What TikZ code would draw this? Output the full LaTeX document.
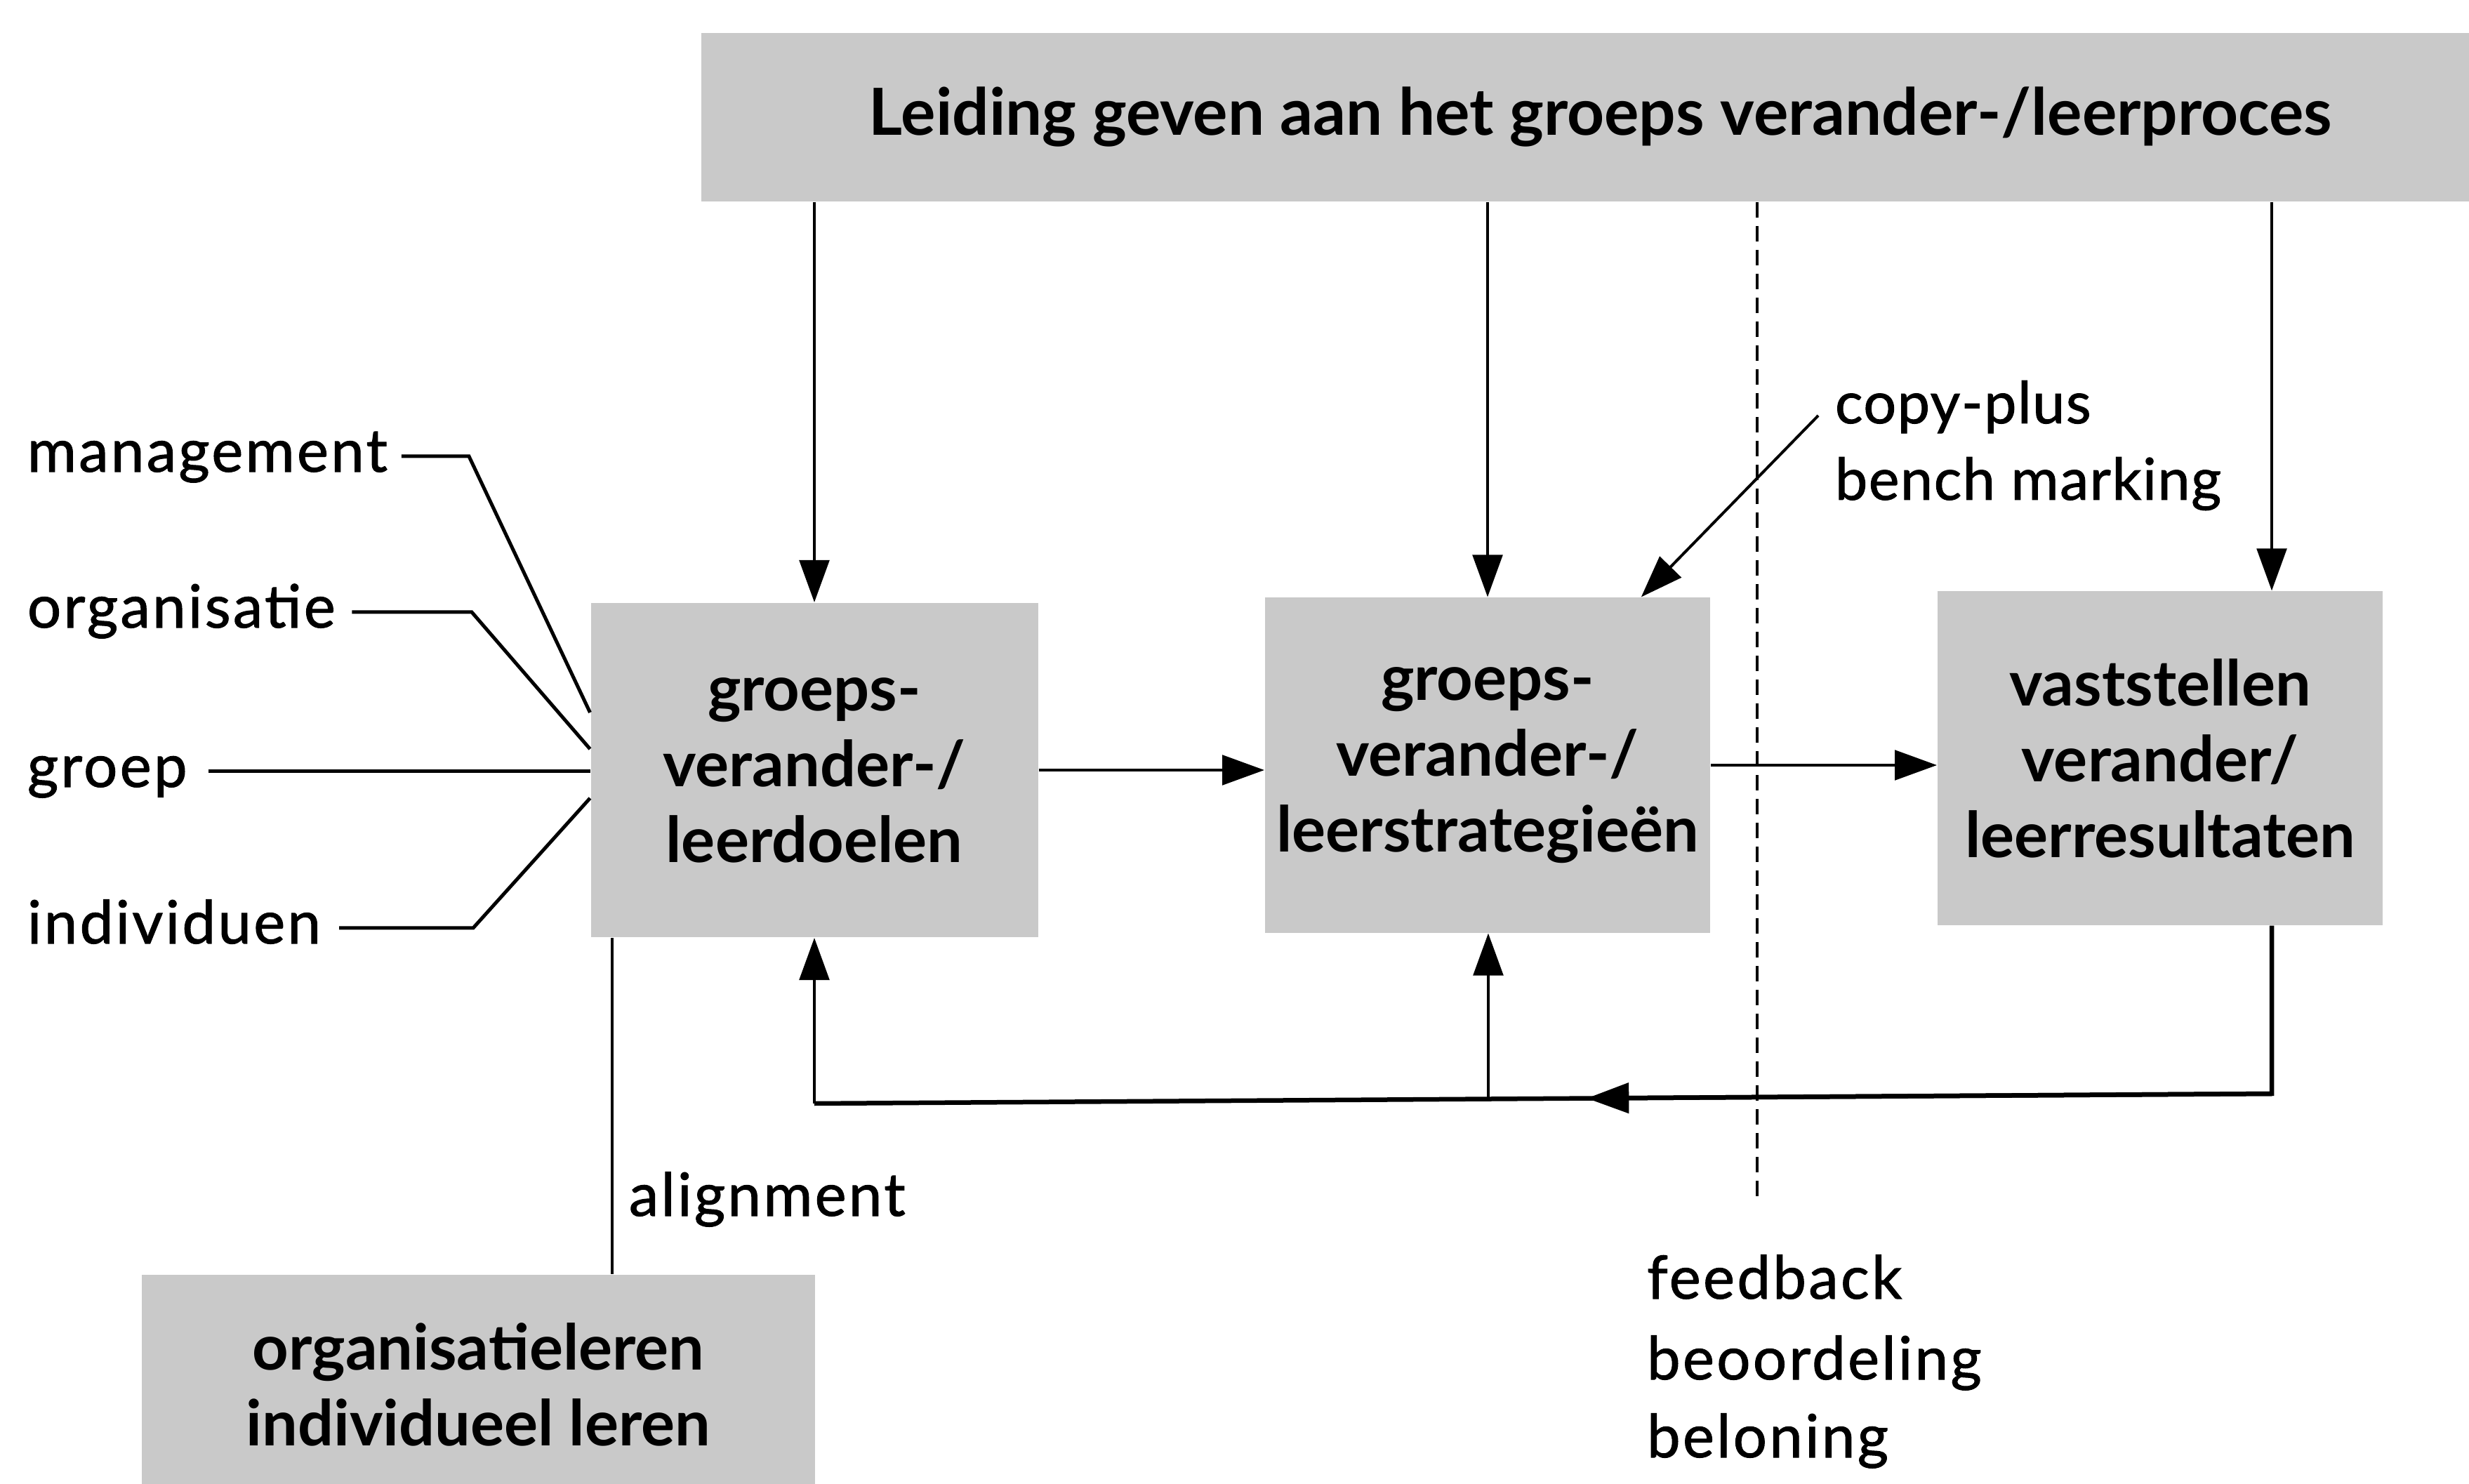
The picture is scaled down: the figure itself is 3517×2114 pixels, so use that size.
\documentclass[tikz,border=0pt]{standalone}
\usepackage{fontspec}
\setmainfont{Lato}
\newfontfamily\lblfont[LetterSpace=4,FakeBold=1.2]{Lato}
\newfontfamily\cpfont[LetterSpace=2,FakeBold=1.2]{Lato}
\usetikzlibrary{arrows.meta,calc}
\definecolor{boxgray}{gray}{0.79}
\begin{document}
\begin{tikzpicture}[x=0.2pt,y=-0.2pt,
  box/.style={fill=boxgray, inner sep=0pt, align=center, font=\fontsize{18}{21.6}\selectfont\bfseries},
  lbl/.style={inner sep=0pt, anchor=base west, font=\lblfont\fontsize{17}{20}\selectfont},
  cplbl/.style={inner sep=0pt, anchor=base west, font=\cpfont\fontsize{16.5}{20}\selectfont},
  arr/.style={line width=0.8pt, -{Triangle[length=12pt,width=8.5pt]}},
  ln/.style={line width=0.8pt},
  tick/.style={line width=1pt},
  fb/.style={line width=1.3pt},
  dashline/.style={line width=0.8pt, dash pattern=on 4.4pt off 2.4pt}]
\useasboundingbox (0,0) rectangle (3517,2114);
\fill[white] (0,0) rectangle (3517,2114);

% boxes
\node[box, minimum width=512.4pt, minimum height=48pt, font=\fontsize{18.5}{22}\selectfont\bfseries] (lead) at (2280,167) {Leiding geven aan het groeps verander-/leerproces};
\node[box, minimum width=127.4pt, minimum height=95.2pt] (box1) at (1160,1097) {groeps-\\verander-/\\leerdoelen};
\node[box, minimum width=126.8pt, minimum height=95.4pt] (box2) at (2119,1090) {groeps-\\verander-/\\leerstrategieën};
\node[box, minimum width=126.8pt, minimum height=95pt] (box3) at (3077,1080) {vaststellen\\verander/\\leerresultaten};
\node[box, minimum width=191.8pt, minimum height=62.4pt] (box4) at (681.5,1972) {organisatieleren\\individueel leren};

% labels
\node[lbl] (mgmt) at (38,672) {management};
\node[lbl] (org) at (38,894) {organisatie};
\node[lbl] (groep) at (38,1121) {groep};
\node[lbl] (indiv) at (38,1344) {individuen};
\node[lbl] (align) at (895,1732) {alignment};
\node[cplbl] (cp) at (2613,603) {copy-plus};
\node[cplbl] (bm) at (2613,712) {bench marking};
\node[lbl] (fbk) at (2345,1850) {feedback};
\node[lbl] (beo) at (2345,1965) {beoordeling};
\node[lbl] (bel) at (2345,2076) {beloning};

% helper coordinates
\coordinate (b3top) at ($(box3.north west)!0.75!(box3.north east)$);
\coordinate (b3bot) at ($(box3.south west)!0.75!(box3.south east)$);
\coordinate (cptip) at ($(box2.north west)!0.844!(box2.north east)$);
\coordinate (dashend) at (2503,1716);
\coordinate (fbR) at (b3bot |- 0,1558);
\coordinate (fbL) at (box1.south |- 0,1572);
\coordinate (fbA) at ($(fbR)!0.47!(fbL)$);
\coordinate (fbM) at ($(fbR)!0.5376!(fbL)$);
\coordinate (alTop) at ($(box1.south west)+(6.2pt,0)$);
\coordinate (xm) at (668,0);
\coordinate (xo) at (672,0);
\coordinate (xi) at (674,0);

% arrows from top banner
\draw[arr] (lead.south -| box1.north) -- (box1.north);
\draw[arr] (lead.south -| box2.north) -- (box2.north);
\draw[arr] (lead.south -| b3top) -- (b3top);
\draw[dashline] (lead.south -| dashend) -- (dashend);

% horizontal flow
\draw[arr] (box1.east) -- (box1.east -| box2.west);
\draw[arr] (box2.east) -- (box2.east -| box3.west);

% copy-plus arrow
\draw[arr] ([shift={(-4.6pt,2.2pt)}]cp.base west) -- (cptip);

% feedback loop
\draw[fb] (b3bot) -- (fbR) -- (fbL);
\draw[fb, -{Triangle[length=12pt,width=8.5pt]}] (fbR) -- (fbA);
\draw[arr] (fbL) -- (box1.south);
\draw[arr] (fbM) -- (fbM |- box2.south);

% alignment
\draw[ln] (alTop) -- (alTop |- box4.north);

% input lines
\draw[tick] ([shift={(3.8pt,4.4pt)}]mgmt.base east) coordinate (m0) -- (m0 -| xm) -- (box1.west |- 0,1015);
\draw[tick] ([shift={(4.5pt,4.4pt)}]org.base east) coordinate (o0) -- (o0 -| xo) -- (box1.west |- 0,1067);
\draw[tick] ([shift={(5.8pt,4.4pt)}]groep.base east) coordinate (g0) -- (g0 -| box1.west);
\draw[tick] ([shift={(5pt,4.4pt)}]indiv.base east) coordinate (i0) -- (i0 -| xi) -- (box1.west |- 0,1137);
\end{tikzpicture}
\end{document}
